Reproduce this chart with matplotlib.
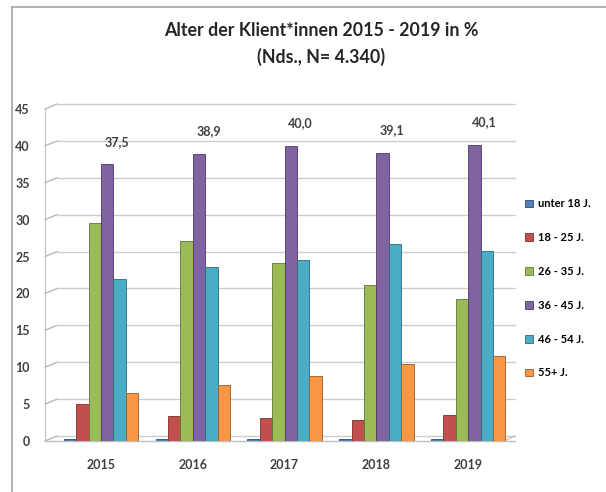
import matplotlib

matplotlib.use("Agg")
import matplotlib.pyplot as plt
import numpy as np
from matplotlib.lines import Line2D

plt.rcParams["font.family"] = ["Lato", "DejaVu Sans"]

years = ["2015", "2016", "2017", "2018", "2019"]
age_groups = ["unter 18 J.", "18 - 25 J.", "26 - 35 J.", "36 - 45 J.", "46 - 54 J.", "55+ J."]
unter_18 = [0.3, 0.3, 0.3, 0.3, 0.3]
age_18_25 = [5.0, 3.4, 3.1, 2.9, 3.5]
age_26_35 = [29.6, 27.1, 24.1, 21.2, 19.3]
age_36_45 = [37.5, 38.9, 40.0, 39.1, 40.1]
age_46_54 = [21.9, 23.6, 24.5, 26.7, 25.8]
age_55_plus = [6.5, 7.6, 8.8, 10.5, 11.5]
series = [unter_18, age_18_25, age_26_35, age_36_45, age_46_54, age_55_plus]
labelled = age_36_45

colors = ["#4F81BD", "#C0504D", "#9BBB59", "#8064A2", "#4BACC6", "#F79646"]
edges = ["#2f4d71", "#7a2f2d", "#5f7534", "#4c3b61", "#2d6877", "#9a5b25"]

fig = plt.figure(figsize=(6.06, 4.92), dpi=100)
ax_w, ax_h = 470, 332
ax = fig.add_axes((45 / 606, 1 - 441 / 492, ax_w / 606, ax_h / 492))

x = np.arange(len(years))
width = 0.135
offsets = (np.arange(len(series)) - (len(series) - 1) / 2) * width

ymax = 45
ticks = np.arange(0, ymax + 1, 5)

# back wall grid: short slanted connector from the axis, then the wall line
dx = 12 / ax_w
dy = 5 / ax_h * ymax
ytrans = ax.get_yaxis_transform()
for t in ticks:
    ax.plot([0, dx], [t, t + dy], transform=ytrans, color="#b0b0b0", lw=0.9, zorder=0, clip_on=False)
    ax.plot([dx, 1.0], [t + dy, t + dy], transform=ytrans, color="#cccccc", lw=1.0, zorder=0,
            clip_on=False)

for i, (vals, name) in enumerate(zip(series, age_groups)):
    ax.bar(x + offsets[i], vals, width=width, color=colors[i], edgecolor=edges[i],
           linewidth=0.6, label=name, zorder=3)

purple = 3
for xi, v in zip(x, labelled):
    ax.annotate(f"{v:.1f}".replace(".", ","), xy=(xi + offsets[purple], v),
                xytext=(7, 12), textcoords="offset points", ha="center", va="bottom",
                fontsize=9, fontweight="bold", color="#404040", zorder=5)

ax.set_xlim(-0.61, 4.51)
ax.set_ylim(0, ymax)
ax.set_yticks(ticks)
ax.set_xticks(x)
ax.set_xticklabels(years)
ax.tick_params(axis="y", length=0, pad=11, labelsize=9, labelcolor="#404040")
ax.tick_params(axis="x", length=0, pad=13, labelsize=9, labelcolor="#404040")
for lbl in ax.get_yticklabels() + ax.get_xticklabels():
    lbl.set_fontweight("bold")
for side in ("top", "right", "bottom"):
    ax.spines[side].set_visible(False)
ax.spines["left"].set_color("#bfbfbf")
# floor edge
ax.plot([0, 1.0], [0, 0], transform=ytrans, color="#bfbfbf", lw=1.0, zorder=1, clip_on=False)
ax.plot([1.0 - dx, 1.0], [0, dy], transform=ytrans, color="#bfbfbf", lw=0.9, zorder=1,
        clip_on=False)
ax.set_facecolor("none")

fig.text(0.53, 0.938, "Alter der Klient*innen 2015 - 2019 in %", ha="center", va="center",
         fontsize=12.8, fontweight="bold", color="#262626")
fig.text(0.53, 0.885, "(Nds., N= 4.340)", ha="center", va="center",
         fontsize=12.8, fontweight="bold", color="#262626")

fig.legend(loc="upper left", bbox_to_anchor=(521 / 606, 1 - 194 / 492), frameon=False,
           handlelength=0.7, handleheight=0.7, handletextpad=0.4,
           labelspacing=2.05, borderaxespad=0, prop={"weight": "bold", "size": 8})

# chart area border (left and top edges)
fig.add_artist(Line2D([12 / 606, 12 / 606], [0, 1 - 7 / 492], color="#a6a6a6", lw=1.2))
fig.add_artist(Line2D([12 / 606, 1], [1 - 7 / 492, 1 - 7 / 492], color="#a6a6a6", lw=1.2))

fig.savefig("out.png", dpi=100)
